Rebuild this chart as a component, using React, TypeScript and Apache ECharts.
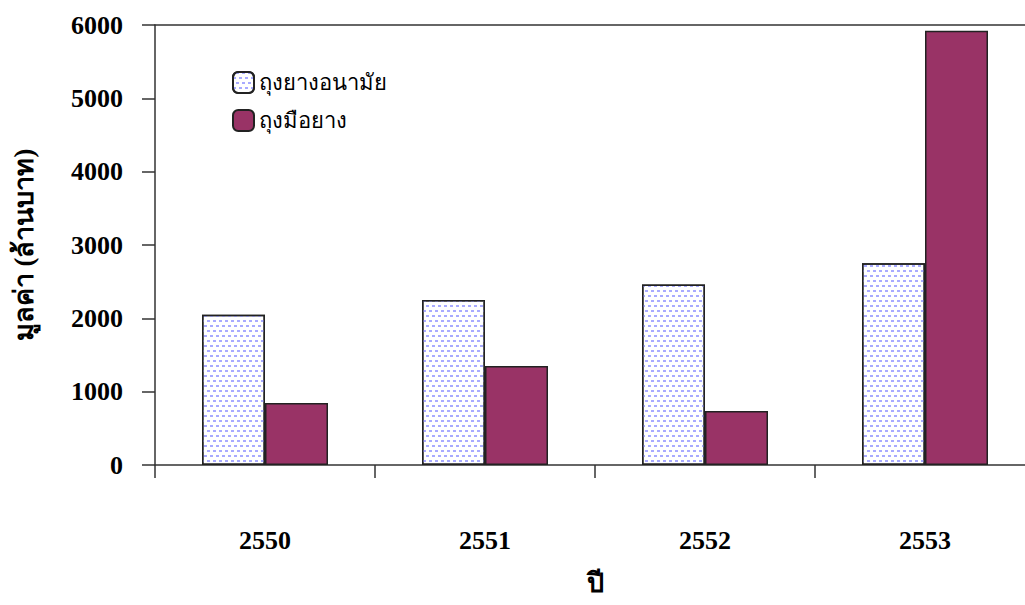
import React, { useEffect, useRef } from "react";
import * as echarts from "echarts";

const categories = ["2550", "2551", "2552", "2553"];
const seriesNames = ["ถุงยางอนามัย", "ถุงมือยาง"];
const condomValues = [2050, 2250, 2460, 2750];
const gloveValues = [845, 1350, 735, 5920];
const yTicks = [0, 1000, 2000, 3000, 4000, 5000, 6000];

const FONT = '"Liberation Serif", "Times New Roman", serif';

export default function App() {
  const ref = useRef<HTMLDivElement>(null);
  useEffect(() => {
    document.body.style.margin = "0";
    document.documentElement.style.overflow = "hidden";
    document.body.style.overflow = "hidden";
    if (!ref.current) return;
    const chart = echarts.init(ref.current, null, { renderer: "svg" });
    chart.setOption({
      animation: false,
      backgroundColor: "#ffffff",
      grid: {
        left: 155,
        top: 25,
        width: 880,
        height: 440,
        containLabel: false,
        outerBoundsMode: "none",
      },
      legend: {
        orient: "vertical",
        left: 232,
        top: 71,
        itemWidth: 21,
        itemHeight: 21,
        itemGap: 15,
        padding: 0,
        textStyle: { fontFamily: FONT, fontSize: 22, color: "#000" },
        data: seriesNames,
      },
      xAxis: [
        {
          type: "category",
          data: categories,
          position: "bottom",
          axisLine: { show: true, lineStyle: { color: "#333", width: 1.5 } },
          axisTick: { show: true, length: 13, lineStyle: { color: "#333", width: 1.5 } },
          axisLabel: {
            margin: 62,
            fontFamily: FONT,
            fontSize: 26,
            fontWeight: "bold",
            color: "#000",
          },
          name: "ปี",
          nameLocation: "middle",
          nameGap: 104,
          nameTextStyle: { fontFamily: FONT, fontSize: 27, fontWeight: "bold", color: "#000" },
        },
        {
          type: "category",
          data: categories,
          position: "top",
          axisLine: { show: true, lineStyle: { color: "#333", width: 1.5 } },
          axisTick: { show: false },
          axisLabel: { show: false },
        },
      ],
      yAxis: {
        type: "value",
        min: yTicks[0],
        max: yTicks[yTicks.length - 1],
        interval: 1000,
        axisLine: { show: true, lineStyle: { color: "#333", width: 1.5 } },
        axisTick: { show: true, length: 13, lineStyle: { color: "#333", width: 1.5 } },
        splitLine: { show: false },
        axisLabel: {
          margin: 32,
          fontFamily: FONT,
          fontSize: 26,
          fontWeight: "bold",
          color: "#000",
          formatter: (v: number) => String(v),
        },
        name: "มูลค่า (ล้านบาท)",
        nameLocation: "middle",
        nameGap: 118,
        nameTextStyle: { fontFamily: FONT, fontSize: 27, fontWeight: "bold", color: "#000" },
      },
      series: [
        {
          name: seriesNames[0],
          type: "bar",
          data: condomValues,
          barWidth: 63,
          barGap: "0%",
          itemStyle: {
            color: "#ffffff",
            borderColor: "#222",
            borderWidth: 1.5,
            decal: {
              symbol: "rect",
              symbolSize: 1,
              color: "#a8aaff",
              backgroundColor: "#ffffff",
              dashArrayX: [[3, 3], [0, 3, 3, 0]],
              dashArrayY: [1.5, 2.5],
              rotation: 0,
            },
          },
        },
        {
          name: seriesNames[1],
          type: "bar",
          data: gloveValues,
          barWidth: 63,
          itemStyle: { color: "#993366", borderColor: "#222", borderWidth: 1.5 },
        },
      ],
    });
    return () => chart.dispose();
  }, []);
  return (
    <div style={{ position: "fixed", left: 0, top: 0, width: 1025, height: 605, overflow: "hidden" }}>
      <div ref={ref} style={{ width: 1025, height: 605 }} />
    </div>
  );
}
